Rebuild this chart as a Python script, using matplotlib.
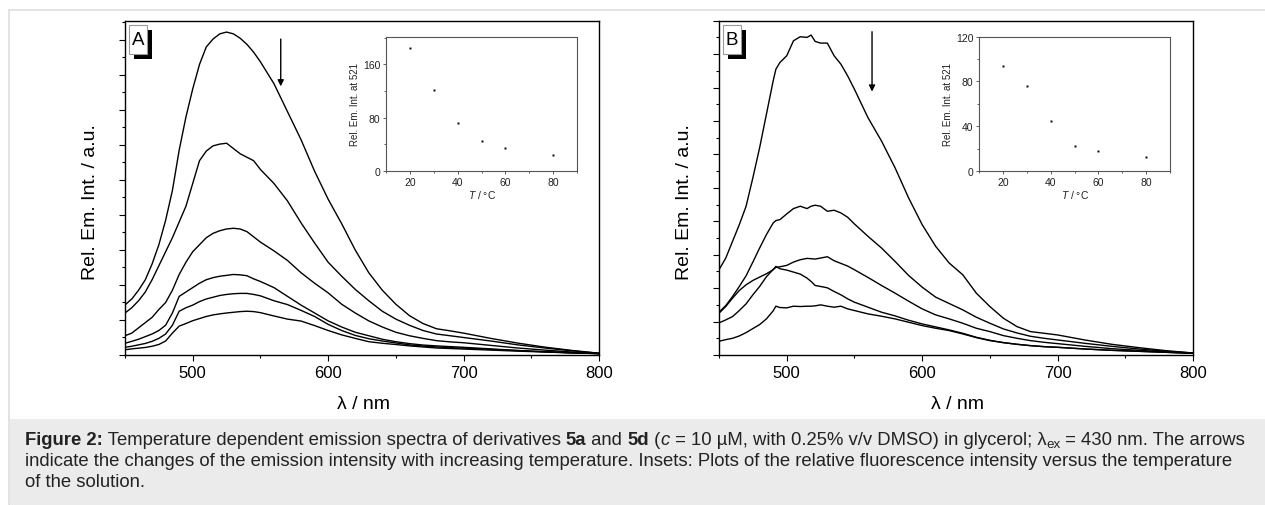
import numpy as np
import matplotlib
matplotlib.use("Agg")
import matplotlib.pyplot as plt
from matplotlib.patches import Rectangle
from matplotlib.ticker import MultipleLocator, NullFormatter

plt.rcParams['font.family'] = ['Liberation Sans', 'DejaVu Sans']
plt.rcParams['mathtext.fontset'] = 'custom'
plt.rcParams['mathtext.rm'] = 'Liberation Sans'
plt.rcParams['mathtext.it'] = 'Liberation Sans:italic'
plt.rcParams['mathtext.bf'] = 'Liberation Sans:bold'

# ---- data ----
wl_a = [450, 455, 460, 465, 470, 475, 480, 485, 490, 495, 500, 505, 510, 515, 520, 525,
        530, 535, 540, 545, 550, 560, 570, 580, 590, 600, 610, 620, 630, 640, 650, 660,
        670, 680, 690, 700, 720, 740, 760, 780, 800]
a_20 = [28.6, 32, 37, 43, 52, 63, 77, 94, 117, 136, 152, 166, 176, 180.5, 183.5, 184.5,
        183.5, 181, 177.5, 173, 167.5, 155, 139, 123, 105, 89, 75, 60, 47, 37, 29, 22.5,
        18, 15, 13.8, 12.5, 9.5, 6.8, 4.5, 2.6, 1]
a_30 = [24, 27, 31, 36, 43, 51, 59, 67, 76, 85, 98, 111, 116.5, 119.5, 120.5, 121,
        118, 115, 113, 111, 106, 98, 88, 75.5, 64, 53, 45, 37.5, 31, 25, 20.5, 17,
        14, 12, 11, 10, 8, 5.8, 4, 2.4, 1]
a_40 = [11, 12.5, 15.5, 18.5, 21.5, 26, 30, 37, 46, 53, 59, 63, 67, 69.5, 71, 72,
        72.4, 72, 70.5, 67.5, 64.5, 59.5, 54, 47, 41, 35.5, 29, 24, 19.5, 16, 13, 11,
        9.5, 8.2, 7.5, 7, 5.5, 4, 2.8, 1.7, 0.8]
a_50 = [6.7, 7.8, 9, 10.5, 12, 14, 17, 24, 33.5, 36, 38.5, 41, 43, 44.2, 45, 45.5,
        46, 45.8, 45.3, 43.5, 42, 38.5, 33.5, 28.5, 24, 19.5, 16, 13, 11, 9, 7.6, 6.5,
        5.7, 5.2, 4.8, 4.4, 3.5, 2.6, 1.9, 1.3, 0.8]
a_60 = [4.4, 5, 5.8, 6.6, 7.8, 9.5, 12, 17, 25, 27, 28.5, 30.5, 32, 33, 34, 34.6,
        35, 35.2, 35.2, 34.6, 33.8, 31, 28.8, 25.5, 22, 17.5, 14, 11.2, 9.3, 8, 6.9, 5.8,
        5.1, 4.6, 4.2, 3.9, 3.2, 2.5, 1.8, 1.2, 0.8]
a_80 = [3, 3.5, 3.9, 4.3, 5, 6, 8, 12.5, 16.5, 18, 19.6, 20.8, 22, 22.9, 23.5, 24,
        24.4, 24.8, 25, 24.8, 24.2, 22.3, 20.5, 19.4, 16.8, 14, 11.5, 9.5, 7.6, 6.7, 6, 5.2,
        4.6, 4, 3.7, 3.4, 2.8, 2.2, 1.7, 1.2, 0.8]

wl_b = [450, 455, 460, 465, 470, 475, 480, 485, 490, 492, 495, 500, 505, 510, 515, 518,
        521, 525, 530, 535, 540, 545, 550, 560, 570, 580, 590, 600, 610, 620, 630, 640,
        650, 660, 670, 680, 690, 700, 720, 740, 760, 780, 800]
b_1 = [25.5, 29, 34, 39, 44.5, 53, 62, 72, 82, 85.5, 87.5, 89.5, 94, 95.2, 95, 95.7,
       93.8, 93.3, 93.3, 89.5, 87, 83.5, 79.5, 71, 64, 56, 47, 39, 32.5, 27.5, 24, 18.5,
       14.5, 11, 8.5, 7, 6.5, 6, 4.5, 3.2, 2.2, 1.3, 0.6]
b_2 = [12.8, 14.8, 17.5, 20.5, 23.7, 27.8, 32, 36, 39.5, 40.2, 40.5, 42.2, 43.8, 44.5, 43.8, 44.5,
       44.8, 44.5, 43, 43.3, 42.5, 41.2, 39.2, 35.5, 32, 28, 23.8, 20.3, 17.3, 15.4, 13.5, 11.3,
       9.5, 7.8, 6.6, 5.6, 5, 4.5, 3.5, 2.6, 1.8, 1.1, 0.6]
b_3 = [9.6, 10.5, 11.5, 13.3, 15.3, 18, 20.5, 23.4, 25.6, 26.2, 26.4, 26.8, 27.8, 28.5, 28.9, 28.8,
       28.7, 29, 29.4, 28.2, 27.4, 26.6, 25.5, 23.2, 20.8, 18.5, 16.1, 13.8, 12, 10.8, 9.5, 8,
       7, 5.8, 5, 4.3, 3.8, 3.4, 2.6, 1.9, 1.4, 0.9, 0.6]
b_4 = [12.5, 14.5, 17, 19.3, 21, 22.3, 23.3, 24.3, 25.5, 26.5, 25.8, 25.4, 24.8, 24.2, 23, 22,
       20.8, 20.5, 20.1, 19, 18, 16.8, 15.8, 14.3, 12.8, 11.7, 10.4, 9.3, 8.4, 7.5, 6.5, 5.3,
       4.4, 3.7, 3.2, 2.8, 2.5, 2.3, 1.8, 1.4, 1.1, 0.8, 0.5]
b_5 = [4.1, 4.6, 5, 5.7, 6.7, 7.9, 9.1, 10.8, 13.2, 14.6, 14.2, 14.1, 14.6, 14.5, 14.6, 14.6,
       14.7, 15, 14.6, 14.3, 14.6, 13.8, 13.3, 12.3, 11.6, 10.8, 9.8, 8.8, 8, 7.3, 6.3, 5.2,
       4.3, 3.7, 3.2, 2.8, 2.5, 2.3, 1.8, 1.4, 1.1, 0.8, 0.5]

temps = [20, 30, 40, 50, 60, 80]
inset_a = [184, 121, 72, 45.5, 34.5, 23.5]
inset_b = [93.5, 75.5, 45, 22, 18, 12.5]

W, H = 1265, 506
fig = plt.figure(figsize=(W / 100, H / 100), dpi=100)


def px_rect(x0, y0, x1, y1):
    # figure-pixel box (origin top-left) -> fig fraction rect
    return [x0 / W, (H - y1) / H, (x1 - x0) / W, (y1 - y0) / H]


# outer frame and caption band
fig.patches.append(Rectangle((9 / W, 0), 1.0, (H - 11) / H, transform=fig.transFigure,
                             facecolor='white', edgecolor='#dedede', lw=1.2, zorder=-5))
fig.patches.append(Rectangle((9.6 / W, 0), 1.0, (H - 420) / H, transform=fig.transFigure,
                             facecolor='#ebebeb', edgecolor='none', zorder=-4))


def main_panel(rect, wl, curves, ymax, major, arrow, letter):
    ax = fig.add_axes(rect)
    for c in curves:
        ax.plot(wl, c, color='black', lw=1.0)
    ax.set_xlim(450, 800)
    ax.set_ylim(0, ymax)
    ax.xaxis.set_major_locator(MultipleLocator(100))
    ax.xaxis.set_minor_locator(MultipleLocator(50))
    ax.yaxis.set_major_locator(MultipleLocator(major))
    ax.yaxis.set_minor_locator(MultipleLocator(major / 2))
    ax.yaxis.set_major_formatter(NullFormatter())
    ax.tick_params(which='both', direction='out', top=False, right=False, width=0.8)
    ax.tick_params(which='major', length=4.5, labelsize=12, pad=3)
    ax.tick_params(which='minor', length=2.5)
    for s in ax.spines.values():
        s.set_linewidth(1.0)
    ax.set_xlabel('λ / nm', fontsize=14)
    ax.xaxis.set_label_coords(0.503, -0.121)
    ax.set_ylabel('Rel. Em. Int. / a.u.', fontsize=14)
    ax.yaxis.set_label_coords(-0.054, 0.46)
    ax.annotate('', xy=(arrow[0], arrow[2]), xytext=(arrow[0], arrow[1]),
                arrowprops=dict(arrowstyle='-|>', color='black', lw=1.0,
                                mutation_scale=9, shrinkA=0, shrinkB=0))
    # panel letter box with shadow
    x0 = rect[0] * W + 4
    y0 = H - (rect[1] + rect[3]) * H + 4.5
    fig.patches.append(Rectangle(((x0 + 4.5) / W, (H - y0 - 33.5) / H), 18 / W, 29 / H,
                                 transform=fig.transFigure, facecolor='black',
                                 edgecolor='none', zorder=3))
    fig.patches.append(Rectangle((x0 / W, (H - y0 - 29) / H), 18 / W, 29 / H,
                                 transform=fig.transFigure, facecolor='white',
                                 edgecolor='#9a9a9a', lw=0.8, zorder=4))
    fig.text((x0 + 9) / W, (H - y0 - 14.5) / H, letter, fontsize=13.5,
             ha='center', va='center', zorder=5)
    return ax


def inset(rect, vals, ymax, major):
    ax = fig.add_axes(rect)
    ax.plot(temps, vals, 's', color='black', ms=1.4, mew=0)
    ax.set_xlim(10, 90)
    ax.set_ylim(0, ymax)
    ax.xaxis.set_major_locator(MultipleLocator(20))
    ax.xaxis.set_minor_locator(MultipleLocator(10))
    ax.yaxis.set_major_locator(MultipleLocator(major))
    ax.yaxis.set_minor_locator(MultipleLocator(major / 2))
    ax.tick_params(which='both', direction='out', top=False, right=False,
                   width=0.6, colors='#444444', labelcolor='#222222')
    ax.tick_params(which='major', length=2.5, labelsize=7.5, pad=1.5)
    ax.tick_params(which='minor', length=1.5)
    for s in ax.spines.values():
        s.set_linewidth(0.8)
        s.set_color('#555555')
    ax.set_xlabel(r'$\mathit{T}$ / °C', fontsize=7.5, color='#222222')
    ax.xaxis.set_label_coords(0.505, -0.125)
    ax.set_ylabel('Rel. Em. Int. at 521', fontsize=7, color='#222222')
    ax.yaxis.set_label_coords(-0.135, 0.5)
    return ax


main_panel(px_rect(125, 21.7, 599, 356), wl_a, [a_20, a_30, a_40, a_50, a_60, a_80],
           191, 20, (565, 180.5, 153.5), 'A')
main_panel(px_rect(719, 21.7, 1193, 356), wl_b, [b_1, b_2, b_3, b_4, b_5],
           100, 10, (563, 96.7, 78.8), 'B')
inset(px_rect(386, 38, 577, 172), inset_a, 201, 80)
inset(px_rect(979, 37.5, 1170, 172), inset_b, 120, 40)

# caption, written piece by piece so bold / italic runs sit inline
cap_size = 13.35
cap_col = '#222222'
renderer = fig.canvas.get_renderer()


def rich_line(x_px, base_px, pieces):
    x = x_px
    for txt, style in pieces:
        kw = dict(fontsize=cap_size, color=cap_col, va='baseline', ha='left')
        y = base_px
        if style == 'b':
            kw['fontweight'] = 'bold'
        elif style == 'i':
            kw['fontstyle'] = 'italic'
        elif style == 'sub':
            kw['fontsize'] = cap_size * 0.72
            y = base_px + 3.5
        t = fig.text(x / W, (H - y) / H, txt, **kw)
        x += t.get_window_extent(renderer).width


rich_line(25, 445, [('Figure 2:', 'b'),
                    (' Temperature dependent emission spectra of derivatives ', 'n'),
                    ('5a', 'b'), (' and ', 'n'), ('5d', 'b'), (' (', 'n'), ('c', 'i'),
                    (' = 10 µM, with 0.25% v/v DMSO) in glycerol; λ', 'n'),
                    ('ex', 'sub'), (' = 430 nm. The arrows', 'n')])
rich_line(25, 466, [('indicate the changes of the emission intensity with increasing '
                     'temperature. Insets: Plots of the relative fluorescence intensity '
                     'versus the temperature', 'n')])
rich_line(25, 487, [('of the solution.', 'n')])

fig.savefig('out.png', dpi=100)
